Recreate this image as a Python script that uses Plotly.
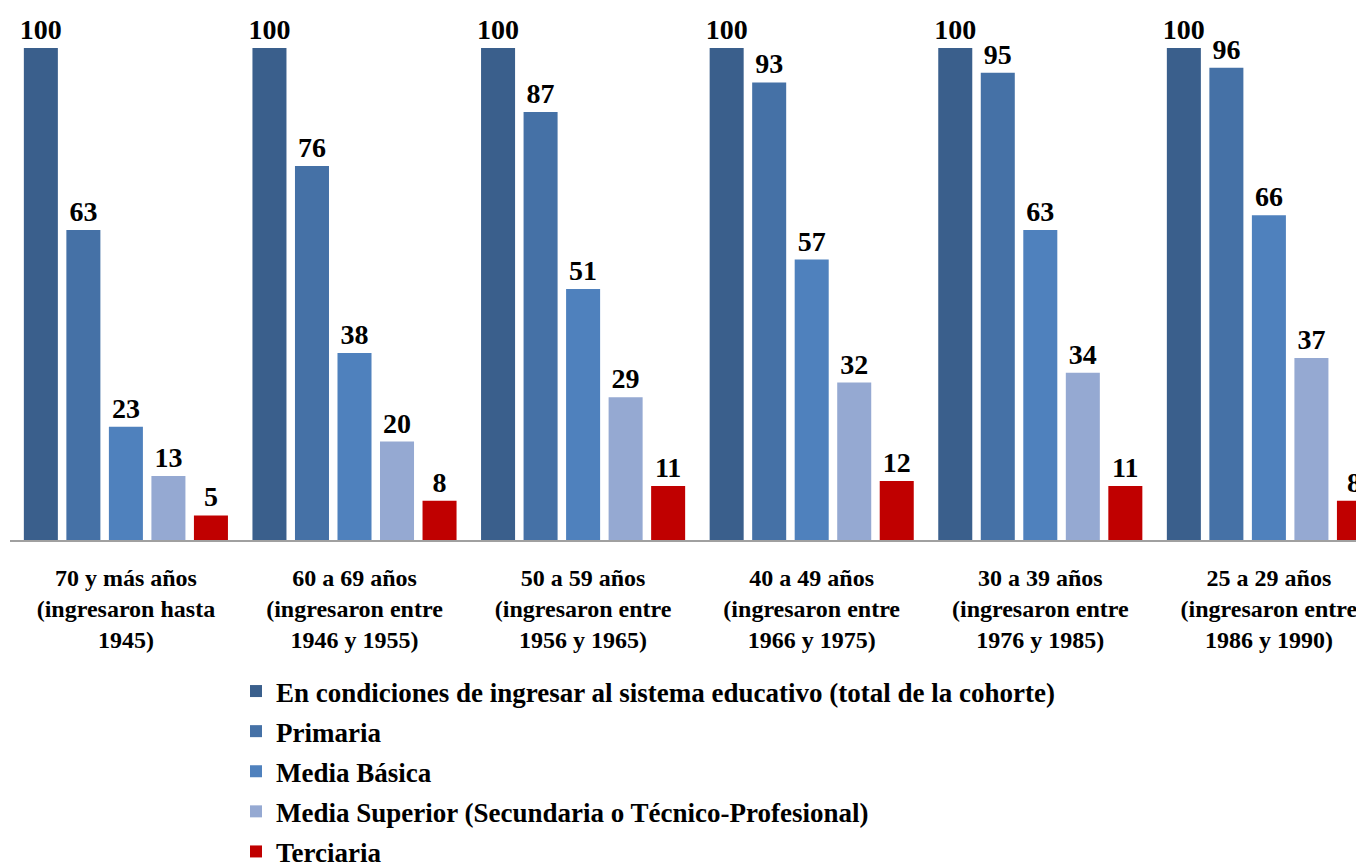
import plotly.graph_objects as go

# cohorts (x categories)
cohortes = [
    "70 y más años<br>(ingresaron hasta<br>1945)",
    "60 a 69 años<br>(ingresaron entre<br>1946 y 1955)",
    "50 a 59 años<br>(ingresaron entre<br>1956 y 1965)",
    "40 a 49 años<br>(ingresaron entre<br>1966 y 1975)",
    "30 a 39 años<br>(ingresaron entre<br>1976 y 1985)",
    "25 a 29 años<br>(ingresaron entre<br>1986 y 1990)",
]

total = [100, 100, 100, 100, 100, 100]
primaria = [63, 76, 87, 93, 95, 96]
media_basica = [23, 38, 51, 57, 63, 66]
media_superior = [13, 20, 29, 32, 34, 37]
terciaria = [5, 8, 11, 12, 11, 8]

series = [
    ("En condiciones de ingresar al sistema educativo (total de la cohorte)", total, "#3A5F8C"),
    ("Primaria", primaria, "#4571A6"),
    ("Media Básica", media_basica, "#4F81BD"),
    ("Media Superior (Secundaria o Técnico-Profesional)", media_superior, "#95A9D2"),
    ("Terciaria", terciaria, "#C00000"),
]

FONT = "Times New Roman, Liberation Serif, Tinos, serif"

fig = go.Figure()
for i, (name, vals, color) in enumerate(series):
    fig.add_trace(go.Bar(
        name=name, x=cohortes, y=vals,
        marker=dict(color=color, line=dict(width=0)),
        text=[f"<b>{v}</b>" for v in vals], textposition="outside",
        textfont=dict(family=FONT, size=28, color="black"),
        constraintext="none",
        cliponaxis=False,
        legendgroup=str(i),
    ))

fig.update_layout(
    width=1364, height=865,
    paper_bgcolor="white", plot_bgcolor="white",
    barmode="group", bargap=0.07, bargroupgap=0.2,
    margin=dict(l=2, r=0, t=12, b=333, autoexpand=False),
    font=dict(family=FONT, color="black"),
    legend=dict(
        xref="container", yref="container",
        x=228 / 1364, y=1 - 659 / 865, xanchor="left", yanchor="top",
        font=dict(family=FONT, size=27, color="black", weight="bold"),
        itemwidth=30, tracegroupgap=2,
        bgcolor="rgba(0,0,0,0)",
    ),
    showlegend=True,
)
fig.update_xaxes(
    range=[-0.507, 5.451], showline=True, linecolor="#A0A0A0", linewidth=2,
    ticks="", showgrid=False, tickangle=0,
    tickfont=dict(family=FONT, size=24, color="black", weight="bold"),
    ticklabelstandoff=15,
)
fig.update_yaxes(range=[0, 105.7], visible=False, showgrid=False)

fig.write_html("out.html")
